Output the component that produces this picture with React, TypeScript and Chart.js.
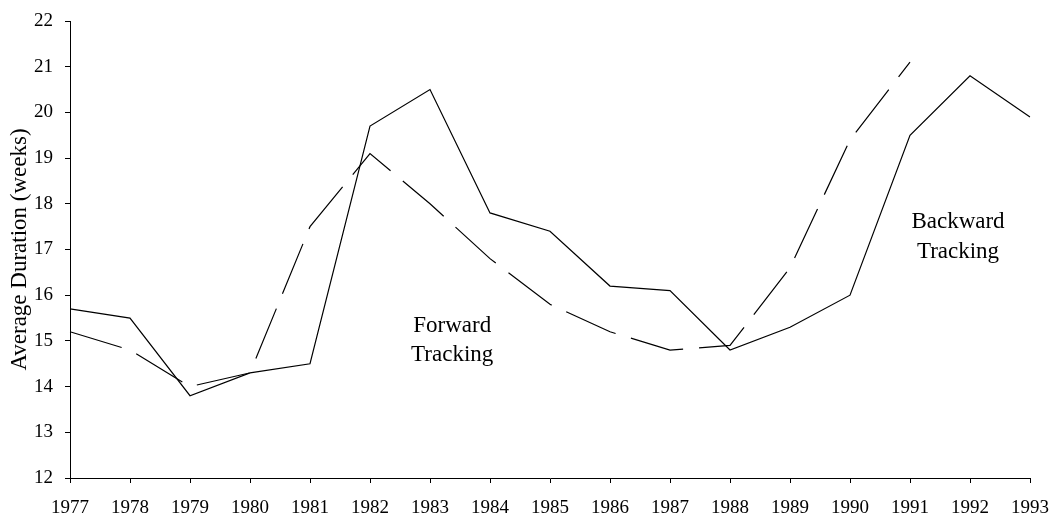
import React, { useEffect, useRef } from "react";
import { Chart, registerables } from "chart.js";

Chart.register(...registerables);

const years = [
  "1977", "1978", "1979", "1980", "1981", "1982", "1983", "1984", "1985",
  "1986", "1987", "1988", "1989", "1990", "1991", "1992", "1993",
];

// Solid line
const backwardTracking = [
  15.7, 15.5, 13.8, 14.3, 14.5, 19.7, 20.5, 17.8, 17.4,
  16.2, 16.1, 14.8, 15.3, 16.0, 19.5, 20.8, 19.9,
];

// Dashed line
const forwardTracking = [
  15.2, 14.8, 14.0, 14.3, 17.5, 19.1, 18.0, 16.8, 15.8,
  15.2, 14.8, 14.9, 16.6, 19.4, 21.1, null, null,
];

const yMin = 12;
const yMax = 22;
const yStep = 1;

const yAxisTitle = "Average Duration (weeks)";

const forwardLabel = ["Forward", "Tracking"];
const backwardLabel = ["Backward", "Tracking"];

const FONT = '"Liberation Serif", "Times New Roman", serif';

const notes = [
  { lines: forwardLabel, xIndex: 6.37, yValue: 15.2 },
  { lines: backwardLabel, xIndex: 14.8, yValue: 17.47 },
];

const labelPlugin = {
  id: "lineLabels",
  afterDatasetsDraw(chart: any) {
    const { ctx, scales } = chart;
    const x = scales.x;
    const y = scales.y;
    ctx.save();
    ctx.font = `23px ${FONT}`;
    ctx.fillStyle = "#000";
    ctx.textAlign = "center";
    ctx.textBaseline = "alphabetic";
    notes.forEach((n) => {
      const px = x.getPixelForValue(n.xIndex);
      const py = y.getPixelForValue(n.yValue);
      n.lines.forEach((t, i) => ctx.fillText(t, px, py + i * 29.5));
    });
    ctx.restore();
  },
};

export default function App() {
  const canvasRef = useRef<HTMLCanvasElement | null>(null);

  useEffect(() => {
    if (!canvasRef.current) return;
    const chart = new Chart(canvasRef.current, {
      type: "line",
      data: {
        labels: years,
        datasets: [
          {
            label: "Backward Tracking",
            data: backwardTracking,
            borderColor: "#000",
            borderWidth: 1.2,
            pointRadius: 0,
            fill: false,
            tension: 0,
          },
          {
            label: "Forward Tracking",
            data: forwardTracking as any,
            borderColor: "#000",
            borderWidth: 1.2,
            borderDash: [54, 16],
            pointRadius: 0,
            fill: false,
            tension: 0,
            spanGaps: false,
          },
        ],
      },
      options: {
        animation: false,
        responsive: false,
        layout: { padding: { top: 21, right: 24, bottom: 0, left: 0 } },
        plugins: {
          legend: { display: false },
          tooltip: { enabled: false },
        },
        scales: {
          x: {
            type: "category",
            offset: false,
            grid: {
              display: true,
              drawOnChartArea: false,
              drawTicks: true,
              tickLength: 5,
              color: "#000",
            },
            border: { display: true, color: "#000", width: 1 },
            ticks: {
              color: "#000",
              font: { family: FONT, size: 19 },
              padding: 14,
              maxRotation: 0,
              autoSkip: false,
            },
            afterFit: (s: any) => {
              s.height = 40;
              s.paddingLeft = 0;
              s.paddingRight = 0;
            },
          },
          y: {
            min: yMin,
            max: yMax,
            grid: {
              display: true,
              drawOnChartArea: false,
              drawTicks: true,
              tickLength: 5,
              color: "#000",
            },
            border: { display: true, color: "#000", width: 1 },
            ticks: {
              stepSize: yStep,
              color: "#000",
              font: { family: FONT, size: 19 },
              padding: 12,
            },
            title: {
              display: true,
              text: yAxisTitle,
              color: "#000",
              font: { family: FONT, size: 23, weight: "normal" },
              padding: { top: 6, bottom: 0 },
            },
            afterFit: (s: any) => {
              s.width = 70;
              s.paddingTop = 0;
              s.paddingBottom = 0;
            },
          },
        },
      },
      plugins: [labelPlugin],
    });
    return () => chart.destroy();
  }, []);

  return (
    <canvas
      ref={canvasRef}
      width={1054}
      height={518}
      style={{ position: "fixed", left: 0, top: 0, display: "block" }}
    />
  );
}
